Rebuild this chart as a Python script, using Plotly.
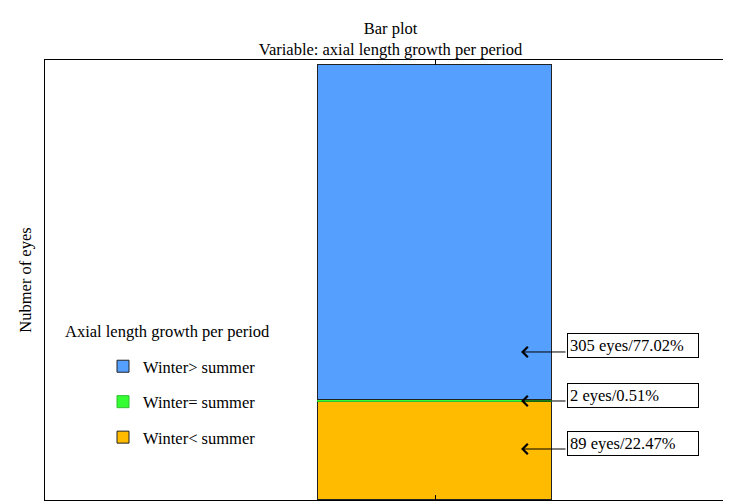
import plotly.graph_objects as go

# ---- data ----
categories = ["Winter< summer", "Winter= summer", "Winter> summer"]
eyes = [89, 2, 305]
labels = ["89 eyes/22.47%", "2 eyes/0.51%", "305 eyes/77.02%"]
arrow_y = [46.4, 90.1, 134.7]      # where each arrow points (data units)
box_y = [51.0, 95.5, 140.5]        # label box centres (data units)
colors = ["#FFBB00", "#33FF33", "#559FFF"]
line_colors = ["#222222", "#2fbf2f", "#222222"]
legend_rank = [3, 2, 1]

FONT = "Liberation Serif"
FS = 16.5
W, H = 731, 504
ML, MR, MT, MB = 37, 11, 52, 12
PW, PH = W - ML - MR, H - MT - MB


def px_x(px):
    return (px - ML) / PW


def px_y(py):
    return (H - MB - py) / PH


fig = go.Figure()
for cat, val, col, lc, rk in zip(categories, eyes, colors, line_colors, legend_rank):
    fig.add_trace(go.Bar(
        x=[0], y=[val], width=1.0, name=cat,
        marker=dict(color=col, line=dict(color=lc, width=1)),
        legendgroup=cat, legendrank=rk,
    ))

annotations = []
for lab, ay, by in zip(labels, arrow_y, box_y):
    annotations.append(dict(
        x=0.3675, y=ay, xref="x", yref="y",
        ax=0.564, ay=ay, axref="x", ayref="y",
        text="", showarrow=True, arrowhead=4, arrowsize=2,
        arrowwidth=1, arrowcolor="black",
    ))
    annotations.append(dict(
        x=0.564, y=by, xref="x", yref="y", xanchor="left", yanchor="middle",
        text=lab, showarrow=False, align="left", width=126,
        bordercolor="black", borderwidth=1, borderpad=2, bgcolor="white",
        font=dict(family=FONT, size=FS, color="black"),
    ))

annotations.append(dict(
    x=px_x(55), y=px_y(323), xref="paper", yref="paper", showarrow=False,
    text="Axial length growth per period", xanchor="left", yanchor="middle",
    font=dict(family=FONT, size=FS, color="black"),
))

fig.update_layout(
    width=W, height=H,
    margin=dict(l=ML, r=MR, t=MT, b=MB, autoexpand=False),
    paper_bgcolor="white", plot_bgcolor="white",
    barmode="stack",
    bargap=0,
    font=dict(family=FONT, size=FS, color="black"),
    title=dict(
        text="Bar plot<br>Variable: axial length growth per period",
        x=0.506, xref="paper", xanchor="center",
        y=1 - 26 / H, yref="container", yanchor="middle",
        font=dict(family=FONT, size=FS, color="black"),
    ),
    xaxis=dict(
        range=[-1.667, 1.252], tickvals=[0], showticklabels=False,
        ticks="inside", ticklen=5, tickcolor="black",
        showline=True, linecolor="black", linewidth=1, mirror="ticks",
        showgrid=False, zeroline=False, fixedrange=True,
    ),
    yaxis=dict(
        range=[0, 400.4], showticklabels=False, ticks="",
        showline=True, linecolor="black", linewidth=1, mirror=False,
        showgrid=False, zeroline=False, automargin=False,
        title=dict(text="Nubmer of eyes", standoff=8,
                   font=dict(family=FONT, size=FS, color="black")),
    ),
    legend=dict(
        x=px_x(95), y=px_y(341), xanchor="left", yanchor="top",
        traceorder="grouped", tracegroupgap=11,
        font=dict(family=FONT, size=FS, color="black"),
        bgcolor="rgba(0,0,0,0)",
    ),
    annotations=annotations,
    shapes=[dict(type="line", xref="paper", yref="paper", x0=1, x1=1, y0=0, y1=1,
                 line=dict(color="#999999", width=1))],
    showlegend=True,
)

fig.write_html("out.html")
